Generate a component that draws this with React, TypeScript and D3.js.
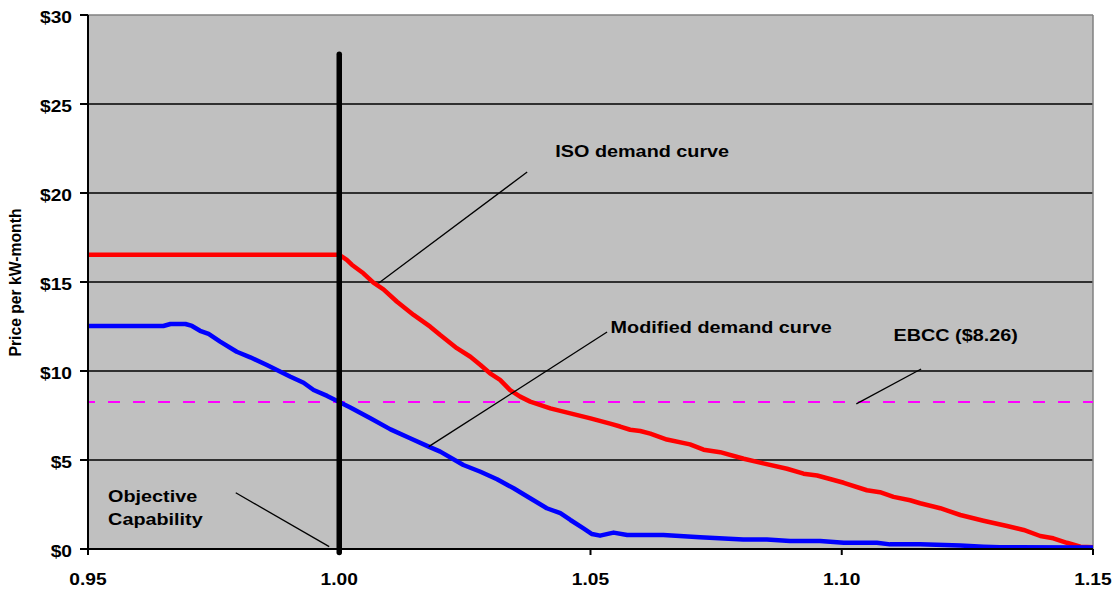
import React from "react";
import * as d3 from "d3";

// ---- data ----
const xTicks = [0.95, 1.0, 1.05, 1.1, 1.15];
const xTickLabels = ["0.95", "1.00", "1.05", "1.10", "1.15"];
const yTicks = [0, 5, 10, 15, 20, 25, 30];
const yTickLabels = ["$0", "$5", "$10", "$15", "$20", "$25", "$30"];

const isoX = [0.95, 1.0, 1.0015, 1.0025, 1.0048, 1.0068, 1.0088, 1.0115, 1.0148, 1.0181, 1.0201, 1.0234, 1.0261, 1.0281, 1.03, 1.032, 1.034, 1.036, 1.038, 1.042, 1.046, 1.05, 1.0539, 1.0559, 1.0579, 1.0599, 1.0619, 1.0652, 1.0698, 1.0725, 1.0758, 1.0805, 1.0844, 1.0891, 1.0924, 1.0951, 1.1004, 1.105, 1.1076, 1.1103, 1.1136, 1.1156, 1.1196, 1.1236, 1.1282, 1.1329, 1.1362, 1.1395, 1.1421, 1.1448, 1.1475, 1.15];
const isoY = [16.53, 16.53, 16.24, 15.97, 15.49, 14.96, 14.59, 13.89, 13.15, 12.49, 12.02, 11.28, 10.8, 10.34, 9.87, 9.5, 8.93, 8.56, 8.28, 7.9, 7.62, 7.34, 7.04, 6.88, 6.7, 6.63, 6.48, 6.15, 5.88, 5.58, 5.44, 5.07, 4.81, 4.51, 4.23, 4.13, 3.72, 3.3, 3.19, 2.93, 2.74, 2.57, 2.29, 1.91, 1.59, 1.29, 1.07, 0.73, 0.6, 0.35, 0.13, 0.1];

const modX = [0.95, 0.965, 0.9664, 0.9694, 0.9707, 0.9723, 0.974, 0.9763, 0.9796, 0.9823, 0.9856, 0.9876, 0.9903, 0.9929, 0.9949, 0.9976, 0.9995, 1.0022, 1.0062, 1.0102, 1.0141, 1.0178, 1.0201, 1.0247, 1.0281, 1.0314, 1.0347, 1.038, 1.0413, 1.044, 1.046, 1.0486, 1.0503, 1.0519, 1.0539, 1.0546, 1.0573, 1.0645, 1.0718, 1.0804, 1.0851, 1.0897, 1.0957, 1.1004, 1.107, 1.1096, 1.1156, 1.1236, 1.1282, 1.1315, 1.15];
const modY = [12.53, 12.53, 12.64, 12.64, 12.53, 12.26, 12.08, 11.65, 11.08, 10.77, 10.34, 10.06, 9.68, 9.34, 8.93, 8.6, 8.33, 7.95, 7.34, 6.72, 6.22, 5.75, 5.47, 4.72, 4.34, 3.92, 3.41, 2.85, 2.29, 2.01, 1.63, 1.16, 0.84, 0.75, 0.88, 0.92, 0.79, 0.79, 0.66, 0.54, 0.54, 0.45, 0.45, 0.35, 0.35, 0.26, 0.26, 0.19, 0.13, 0.1, 0.08];

const ebcc = 8.26;
const capX = [1.0, 1.0];
const capY = [27.8, -0.2];

// annotations (data coordinates)
const annoText = ["ISO demand curve", "Modified demand curve", "EBCC ($8.26)", "Objective", "Capability"];
const annoTextX = [1.043, 1.054, 1.1103, 0.954, 0.954];
const annoTextY = [22.02, 12.13, 11.69, 2.66, 1.35];
const leaderX1 = [1.0374, 1.0533, 1.1158, 0.9794];
const leaderY1 = [21.18, 12.19, 10.11, 3.16];
const leaderX2 = [1.0078, 1.0178, 1.1029, 0.998];
const leaderY2 = [14.93, 5.75, 8.15, 0.13];

const W = 1115, H = 589;
const L = 88, R = 1093, T = 15, B = 549;
const FONT = "'Liberation Sans', Arial, sans-serif";
const SX = 1.2;

export default function App() {
  const x = d3.scaleLinear().domain([0.95, 1.15]).range([L, R]);
  const y = d3.scaleLinear().domain([0, 30]).range([B, T]);
  const line = d3.line<[number, number]>().x(d => x(d[0])).y(d => y(d[1]));
  const iso = line(isoX.map((v, i) => [v, isoY[i]]) as [number, number][]) || "";
  const mod = line(modX.map((v, i) => [v, modY[i]]) as [number, number][]) || "";
  const cap = line(capX.map((v, i) => [v, capY[i]]) as [number, number][]) || "";

  const txt = (s: string, px: number, py: number, anchor: string, size: number, key: string) => (
    <text key={key} transform={`translate(${px},${py}) scale(${SX},1)`} textAnchor={anchor}
      fontFamily={FONT} fontWeight="bold" fontSize={size} fill="#000">{s}</text>
  );

  return (
    <svg width={W} height={H} style={{ position: "absolute", left: 0, top: 0, background: "#fff" }}>
      <rect x={L} y={T} width={R - L} height={B - T} fill="#C0C0C0" />
      {/* gridlines */}
      {yTicks.filter(t => t > 0 && t < 30).map(t => (
        <line key={"g" + t} x1={L} x2={R} y1={y(t)} y2={y(t)} stroke="#000" strokeWidth={1.5} />
      ))}
      {/* top and right border */}
      <line x1={L} x2={R} y1={T} y2={T} stroke="#808080" strokeWidth={1.5} />
      <line x1={R} x2={R} y1={T} y2={B} stroke="#808080" strokeWidth={1.5} />
      {/* EBCC */}
      <line x1={L} x2={R} y1={y(ebcc)} y2={y(ebcc)} stroke="#FF00FF" strokeWidth={2}
        strokeDasharray="12 13" strokeDashoffset={5} />
      <path d={iso} fill="none" stroke="#FF0000" strokeWidth={4.5} strokeLinejoin="round" />
      <path d={mod} fill="none" stroke="#0000FF" strokeWidth={4.5} strokeLinejoin="round" />
      <path d={cap} fill="none" stroke="#000" strokeWidth={5.5} strokeLinecap="round" />
      {/* leaders */}
      {leaderX1.map((v, i) => (
        <line key={"l" + i} x1={x(v)} y1={y(leaderY1[i])} x2={x(leaderX2[i])} y2={y(leaderY2[i])}
          stroke="#000" strokeWidth={1.3} />
      ))}
      {annoText.map((s, i) => txt(s, x(annoTextX[i]), y(annoTextY[i]), "start", 16.5, "a" + i))}
      {/* axes */}
      <line x1={L} x2={L} y1={T} y2={B} stroke="#000" strokeWidth={2} />
      <line x1={L - 8} x2={R} y1={B} y2={B} stroke="#000" strokeWidth={2} />
      {yTicks.map((t, i) => (
        <g key={"yt" + t}>
          <line x1={L - 8} x2={L} y1={y(t)} y2={y(t)} stroke="#000" strokeWidth={2} />
          {txt(yTickLabels[i], 72, y(t) + 8.3, "end", 16, "ytl" + t)}
        </g>
      ))}
      {xTicks.map((t, i) => (
        <g key={"xt" + t}>
          <line x1={x(t)} x2={x(t)} y1={B} y2={B + 6} stroke="#000" strokeWidth={2} />
          {txt(xTickLabels[i], x(t), 585, "middle", 16, "xtl" + t)}
        </g>
      ))}
      <text transform={`translate(21,282.5) scale(${SX},1) rotate(-90)`} textAnchor="middle"
        fontFamily={FONT} fontWeight="bold" fontSize={13} textLength={148} lengthAdjust="spacingAndGlyphs"
        fill="#000">Price per kW-month</text>
    </svg>
  );
}
